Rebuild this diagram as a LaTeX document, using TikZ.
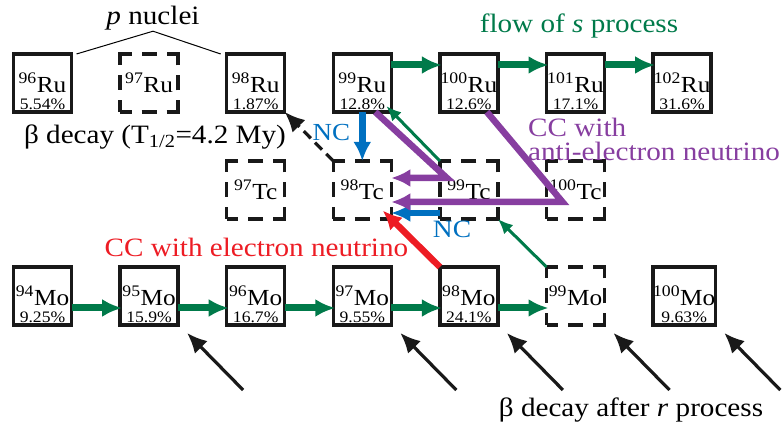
\documentclass[tikz,border=0pt]{standalone}
\usepackage{fontspec}
\setmainfont[FakeStretch=1.1]{Liberation Serif}
\usepackage{xcolor}
\usepackage{tikz}
\usetikzlibrary{positioning,arrows.meta,calc}
\definecolor{sgreen}{RGB}{0,122,74}
\definecolor{ncblue}{RGB}{0,112,192}
\definecolor{ccpurple}{RGB}{135,62,160}
\definecolor{ccred}{RGB}{237,28,36}

\begin{document}
\begin{tikzpicture}[x=1pt, y=1pt, node distance=48.6pt and 48.6pt,
  nucl/.style={draw=black!90, line width=3.3pt, minimum width=58pt, minimum height=58pt, inner sep=0pt,
    outer sep=0pt, font=\fontsize{23}{23}\selectfont},
  unst/.style={nucl, dash pattern=on 23pt off 10pt on 15pt off 10pt, dash phase=11.5pt},
  pct/.style={anchor=south, inner sep=2.5pt, font=\fontsize{16}{16}\selectfont},
  lbl/.style={font=\fontsize{26.5}{24}\selectfont, inner sep=1pt},
  flow/.style={sgreen, line width=7pt, shorten >=-2pt, -{Latex[length=20pt,width=18pt]}},
  back/.style={sgreen, line width=3pt, -{Latex[length=15pt,width=13pt]}},
  nc/.style={ncblue, line width=6.5pt, -{Latex[length=19pt,width=18pt]}},
  anti/.style={ccpurple, line width=6.5pt, -{Latex[length=19pt,width=18pt]}},
  elec/.style={ccred, line width=6.5pt, -{Latex[length=19pt,width=18pt]}},
  decay/.style={black!90, line width=3.2pt, -{Latex[length=20pt,width=18pt]}}]
\useasboundingbox (0,0) rectangle (782,430);
% Ru row
\node[nucl] (ru96) at (42.5,347) {\textsuperscript{96}Ru};
\node[unst, right=of ru96] (ru97) {\textsuperscript{97}Ru};
\node[nucl, right=of ru97] (ru98) {\textsuperscript{98}Ru};
\node[nucl, right=of ru98] (ru99) {\textsuperscript{99}Ru};
\node[nucl, right=of ru99] (ru100) {\textsuperscript{100}Ru};
\node[nucl, right=of ru100] (ru101) {\textsuperscript{101}Ru};
\node[nucl, right=of ru101] (ru102) {\textsuperscript{102}Ru};
\node[pct] at (ru96.south) {5.54\%};
\node[pct] at (ru98.south) {1.87\%};
\node[pct] at (ru99.south) {12.8\%};
\node[pct] at (ru100.south) {12.6\%};
\node[pct] at (ru101.south) {17.1\%};
\node[pct] at (ru102.south) {31.6\%};
% Tc row
\node[unst, below=49pt of ru98] (tc97) {\textsuperscript{97}Tc};
\node[unst, right=of tc97] (tc98) {\textsuperscript{98}Tc};
\node[unst, right=of tc98] (tc99) {\textsuperscript{99}Tc};
\node[unst, right=of tc99] (tc100) {\textsuperscript{100}Tc};
% Mo row
\node[nucl, below=48pt of tc97] (mo96) {\textsuperscript{96}Mo};
\node[nucl, left=of mo96] (mo95) {\textsuperscript{95}Mo};
\node[nucl, left=of mo95] (mo94) {\textsuperscript{94}Mo};
\node[nucl, right=of mo96] (mo97) {\textsuperscript{97}Mo};
\node[nucl, right=of mo97] (mo98) {\textsuperscript{98}Mo};
\node[unst, right=of mo98] (mo99) {\textsuperscript{99}Mo};
\node[nucl, right=of mo99] (mo100) {\textsuperscript{100}Mo};
\node[pct] at (mo94.south) {9.25\%};
\node[pct] at (mo95.south) {15.9\%};
\node[pct] at (mo96.south) {16.7\%};
\node[pct] at (mo97.south) {9.55\%};
\node[pct] at (mo98.south) {24.1\%};
\node[pct] at (mo100.south) {9.63\%};
% labels
\node[lbl] (pnuc) at (153,412) {\textit{p} nuclei};
\node[lbl, sgreen] (sflow) at (579,404) {flow of \textit{s} process};
\node[lbl] (halflife) at (155,293) {β decay (T\textsubscript{1/2}=4.2 My)};
\node[lbl, ccpurple, anchor=west, align=left] (antilbl) at (527,291) {CC with\\anti-electron neutrino};
\node[lbl] (rproc) at (631,20) {β decay after \textit{r} process};
\draw[line width=1pt] ([xshift=5pt]ru96.north east) -- (pnuc.south) -- ([xshift=-6pt]ru98.north west);
% s process
\draw[flow] ([yshift=18pt]ru99.east) -- ([yshift=18pt]ru100.west);
\draw[flow] ([yshift=18pt]ru100.east) -- ([yshift=18pt]ru101.west);
\draw[flow] ([yshift=18pt]ru101.east) -- ([yshift=18pt]ru102.west);
\foreach \a/\b in {94/95,95/96,96/97,97/98,98/99}
  \draw[flow] ([yshift=-12pt]mo\a.east) -- ([yshift=-12pt]mo\b.west);
\draw[back] (tc99.north west) -- ([shift={(-5pt,6pt)}]ru99.south east);
\draw[back] (mo99.north west) -- (tc99.south east);
% neutrino processes
\draw[nc] (ru99) -- node[lbl, left, pos=0.42, xshift=-8pt, ncblue, font=\fontsize{24.5}{25}\selectfont] {NC} (tc98);
\draw[nc] ([yshift=-23pt]tc99.west) -- node[lbl, below=4pt, pos=-0.25, ncblue, font=\fontsize{25}{25}\selectfont] {NC} ([yshift=-23pt]tc98.east);
\draw[anti] ([xshift=13pt]ru99.south) -- ([shift={(7pt,12pt)}]tc99.west) -- ([yshift=12pt]tc98.east);
\draw[anti] ([xshift=18pt]ru100.south) -- ([shift={(16pt,-12pt)}]tc100.west) -- ([yshift=-12pt]tc98.east);
\draw[elec, shorten >=-12pt] (mo98.north west) -- node[lbl, left, pos=0.4, xshift=-8pt, ccred] {CC with electron neutrino} (tc98.south east);
% beta decays
\draw[decay, dash pattern=on 10pt off 6pt] (tc98.north west) -- (ru98.south east);
\foreach \n in {95,97,98,99,100}
  \draw[decay] ([shift={(65pt,-65pt)}]mo\n.south east) -- ([shift={(9pt,-8pt)}]mo\n.south east);
\end{tikzpicture}
\end{document}
